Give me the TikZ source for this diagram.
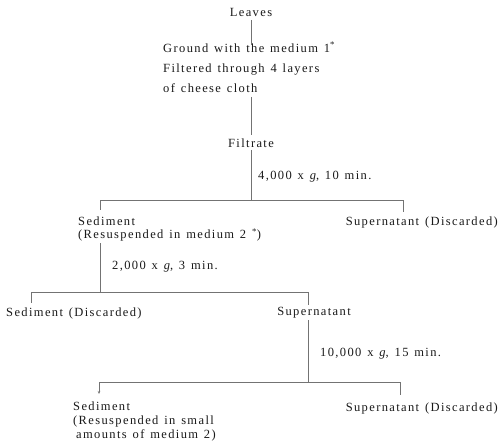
\documentclass[tikz,border=0pt]{standalone}
\usepackage{fontspec}
\setmainfont{Liberation Serif}[LetterSpace=11,WordSpace=1.3]
\usetikzlibrary{arrows.meta}
\begin{document}
\begin{tikzpicture}[x=1pt,y=-1pt,
  txt/.style={inner sep=0pt,font=\fontsize{12.5}{20}\selectfont,text=black!90,align=left},
  ln/.style={draw=black!55,line width=0.6pt}]
\useasboundingbox (0,0) rectangle (498,441);
% nodes
\node[txt,anchor=center] (leaves) at (251,12) {Leaves};
\node[txt,anchor=north west] (ground) at (163,42) {Ground with the medium 1\textsuperscript{*}\\Filtered through 4 layers\\of cheese cloth};
\node[txt,anchor=center] (filtrate) at (251,143) {Filtrate};
\node[txt,anchor=west] (c1) at (258,177) {4,000 x \textit{g}, 10 min.};
\node[txt,anchor=north west,font=\fontsize{12.5}{13}\selectfont] (sed1) at (78,217) {Sediment\\(Resuspended in medium 2 \textsuperscript{*})};
\node[txt,anchor=east] (sup1) at (498,222) {Supernatant (Discarded)};
\node[txt,anchor=west] (c2) at (112,267) {2,000 x \textit{g}, 3 min.};
\node[txt,anchor=west] (sed2) at (6,313) {Sediment (Discarded)};
\node[txt,anchor=center] (sup2) at (314,313) {Supernatant};
\node[txt,anchor=west] (c3) at (320,354) {10,000 x \textit{g}, 15 min.};
\node[txt,anchor=north west,font=\fontsize{12.5}{14}\selectfont] (sed3) at (73,402) {Sediment\\(Resuspended in small\\\hspace{3pt}amounts of medium 2)};
\node[txt,anchor=east] (sup3) at (498,408) {Supernatant (Discarded)};
% junctions
\coordinate (j1) at (251,200);
\coordinate (j1l) at (100,200);
\coordinate (j1r) at (403,200);
\coordinate (d1l) at (100,210);
\coordinate (d1r) at (403,212);
\coordinate (s1) at (100,243);
\coordinate (j2) at (100,292);
\coordinate (j2l) at (31,292);
\coordinate (j2r) at (308,292);
\coordinate (d2l) at (31,303);
\coordinate (d2r) at (308,305);
\coordinate (s2) at (308,320);
\coordinate (j3) at (308,382);
\coordinate (j3l) at (99,382);
\coordinate (j3r) at (400,382);
\coordinate (d3l) at (99,394);
\coordinate (d3r) at (400,395);
\coordinate (t1) at (251,20);
\coordinate (t2) at (251,45);
\coordinate (t3) at (251,97);
\coordinate (t4) at (251,135);
\coordinate (t5) at (251,150);
% connectors
\draw[ln] (t1) -- (t2);
\draw[ln] (t3) -- (t4);
\draw[ln] (t5) -- (j1);
\draw[ln] (j1l) -- (j1r);
\draw[ln] (j1l) -- (d1l);
\draw[ln] (j1r) -- (d1r);
\draw[ln] (s1) -- (j2);
\draw[ln] (j2l) -- (j2r);
\draw[ln] (j2l) -- (d2l);
\draw[ln] (j2r) -- (d2r);
\draw[ln] (s2) -- (j3);
\draw[ln] (j3l) -- (j3r);
\draw[ln,-{Stealth[length=3pt,width=2.5pt]}] (j3l) -- (d3l);
\draw[ln] (j3r) -- (d3r);
\end{tikzpicture}
\end{document}
